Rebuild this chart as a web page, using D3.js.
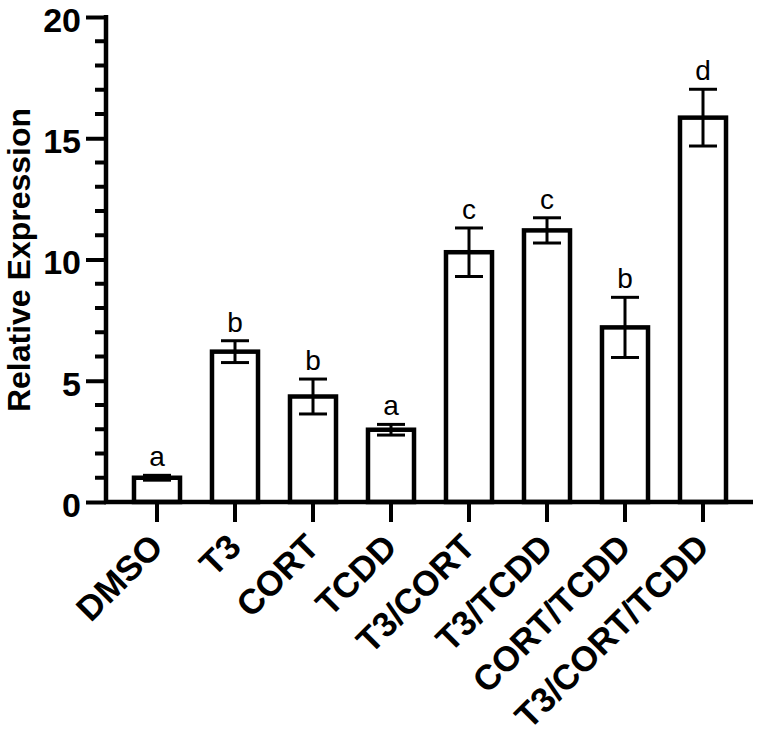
<!DOCTYPE html>
<html>
<head>
<meta charset="utf-8">
<script src="https://cdn.jsdelivr.net/npm/d3@7/dist/d3.min.js"></script>
<style>
  html, body { margin: 0; padding: 0; background: #fff; }
  svg { display: block; }
</style>
</head>
<body>
<svg id="chart" width="760" height="738"></svg>
<script>
// ---- data ----
const categories = ["DMSO", "T3", "CORT", "TCDD", "T3/CORT", "T3/TCDD", "CORT/TCDD", "T3/CORT/TCDD"];
const means      = [1.0, 6.2, 4.35, 2.98, 10.3, 11.2, 7.2, 15.85];
const errors     = [0.1, 0.45, 0.72, 0.22, 1.0, 0.52, 1.24, 1.17];
const letters    = ["a", "b", "b", "a", "c", "c", "b", "d"];
const yTicks     = [0, 5, 10, 15, 20];
const yTitle     = "Relative Expression";

// ---- layout ----
const svg = d3.select("#chart");
const font = "'Liberation Sans', Arial, Helvetica, sans-serif";
const axisX = 106, y0px = 502, y1px = 17;

const y = d3.scaleLinear().domain([0, 20]).range([y0px, y1px]);
const x = d3.scaleBand().domain(categories).range([118, 742])
  .paddingInner(0.41).paddingOuter(0.205);

// bars
svg.append("g").selectAll("rect").data(categories).join("rect")
  .attr("x", d => x(d))
  .attr("width", x.bandwidth())
  .attr("y", (d, i) => y(means[i]))
  .attr("height", (d, i) => y(0) - y(means[i]))
  .attr("fill", "#fff")
  .attr("stroke", "#000")
  .attr("stroke-width", 4.5);

// error bars
const capW = 28;
const eg = svg.append("g").attr("stroke", "#000").attr("stroke-width", 3);
categories.forEach((c, i) => {
  const cx = x(c) + x.bandwidth() / 2;
  const hi = y(means[i] + errors[i]), lo = y(means[i] - errors[i]);
  eg.append("line").attr("x1", cx).attr("x2", cx).attr("y1", hi).attr("y2", lo);
  eg.append("line").attr("x1", cx - capW / 2).attr("x2", cx + capW / 2).attr("y1", hi).attr("y2", hi);
  eg.append("line").attr("x1", cx - capW / 2).attr("x2", cx + capW / 2).attr("y1", lo).attr("y2", lo);
});

// significance letters
svg.append("g").selectAll("text").data(categories).join("text")
  .attr("x", d => x(d) + x.bandwidth() / 2)
  .attr("y", (d, i) => y(means[i] + errors[i]) - 9)
  .attr("text-anchor", "middle")
  .attr("font-family", font)
  .attr("font-size", 28)
  .text((d, i) => letters[i]);

// y axis
const yAxis = d3.axisLeft(y).tickValues(yTicks).tickSize(20).tickPadding(5).tickFormat(d3.format("d"));
const gy = svg.append("g").attr("transform", `translate(${axisX},0)`).call(yAxis);
gy.select(".domain").remove();
gy.selectAll(".tick line").attr("stroke", "#000").attr("stroke-width", 4);
gy.selectAll(".tick text")
  .attr("dy", "0.42em")
  .attr("font-family", font).attr("font-weight", "bold").attr("font-size", 34).attr("fill", "#000");
// minor ticks
const minor = d3.range(0, 20.001, 1).filter(v => v % 5 !== 0);
svg.append("g").selectAll("line").data(minor).join("line")
  .attr("x1", axisX - 11).attr("x2", axisX)
  .attr("y1", d => y(d)).attr("y2", d => y(d))
  .attr("stroke", "#000").attr("stroke-width", 4);
// y axis line
svg.append("line").attr("x1", axisX).attr("x2", axisX)
  .attr("y1", y(20) - 2).attr("y2", y(0) + 2)
  .attr("stroke", "#000").attr("stroke-width", 4.5);

// x axis
const xAxis = d3.axisBottom(x).tickSize(20).tickFormat("");
const gx = svg.append("g").attr("transform", `translate(0,${y0px})`).call(xAxis);
gx.select(".domain").remove();
gx.selectAll(".tick line").attr("stroke", "#000").attr("stroke-width", 4);
svg.append("line").attr("x1", axisX - 2).attr("x2", 753)
  .attr("y1", y0px).attr("y2", y0px)
  .attr("stroke", "#000").attr("stroke-width", 4.5);

// x labels
svg.append("g").selectAll("text").data(categories).join("text")
  .attr("transform", d => `translate(${x(d) + x.bandwidth() / 2 + 8},549) rotate(-45)`)
  .attr("text-anchor", "end")
  .attr("font-family", font)
  .attr("font-weight", "bold")
  .attr("font-size", 35)
  .text(d => d);

// y title
svg.append("text")
  .attr("transform", `translate(30,260) rotate(-90)`)
  .attr("text-anchor", "middle")
  .attr("font-family", font)
  .attr("font-weight", "bold")
  .attr("font-size", 32)
  .text(yTitle);
</script>
</body>
</html>
